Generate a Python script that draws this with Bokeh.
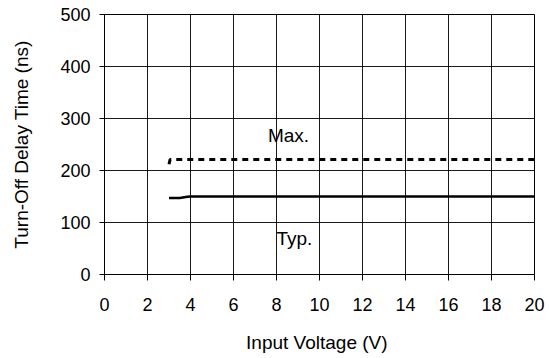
from bokeh.plotting import figure
from bokeh.models import Range1d, FixedTicker, ColumnDataSource
from bokeh.core.properties import value
from bokeh.embed import file_html
from bokeh.resources import INLINE

# Data
max_x = [3.0, 3.05, 4.0, 10.0, 20.0]
max_y = [212, 221, 221, 221, 221]
typ_x = [3.0, 3.5, 3.85, 4.0, 10.0, 20.0]
typ_y = [147, 147, 149.5, 150, 150, 150]

x_ticks = [0, 2, 4, 6, 8, 10, 12, 14, 16, 18, 20]
y_ticks = [0, 100, 200, 300, 400, 500]

label_text = ["Max.", "Typ."]
label_x = [7.6, 8.0]
label_y = [268, 70]

FONT = "Liberation Sans"

p = figure(width=549, height=358, output_backend="svg", toolbar_location=None,
           x_range=Range1d(0, 20), y_range=Range1d(0, 500),
           min_border_left=104, min_border_right=15, min_border_top=14,
           min_border_bottom=84)
p.background_fill_color = "white"
p.border_fill_color = "white"
p.outline_line_color = "black"
p.outline_line_width = 1

for ax in (p.xaxis[0], p.yaxis[0]):
    ax.axis_line_color = "black"
    ax.major_tick_line_color = "black"
    ax.minor_tick_line_color = None
    ax.major_tick_in = 0
    ax.major_label_text_font = FONT
    ax.major_label_text_font_size = "18px"
    ax.major_label_text_color = "black"
    ax.axis_label_text_font = FONT
    ax.axis_label_text_font_size = "19px"
    ax.axis_label_text_font_style = "normal"
    ax.axis_label_text_color = "black"

p.xaxis.ticker = FixedTicker(ticks=x_ticks)
p.yaxis.ticker = FixedTicker(ticks=y_ticks)
p.xaxis.major_tick_out = 6
p.yaxis.major_tick_out = 5
p.xaxis.major_label_standoff = 17
p.yaxis.major_label_standoff = 9
p.xaxis.axis_label = "Input  Voltage (V)"
p.yaxis.axis_label = "Turn-Off Delay Time (ns)"
p.xaxis.axis_label_standoff = 18
p.yaxis.axis_label_standoff = 25

p.xgrid.ticker = FixedTicker(ticks=x_ticks)
p.ygrid.ticker = FixedTicker(ticks=y_ticks)
p.grid.grid_line_color = "black"
p.grid.grid_line_width = 1
p.grid.grid_line_alpha = 0.9

p.line(max_x, max_y, line_color="black", line_width=3, line_dash="6 5")
p.line(typ_x, typ_y, line_color="black", line_width=2.6)

src = ColumnDataSource(dict(x=label_x, y=label_y, t=label_text))
p.text(x="x", y="y", text="t", source=src, text_font=value(FONT),
       text_font_size="19px", text_color="black", text_baseline="alphabetic",
       text_align="left")

open("out.html", "w").write(file_html(p, INLINE))
